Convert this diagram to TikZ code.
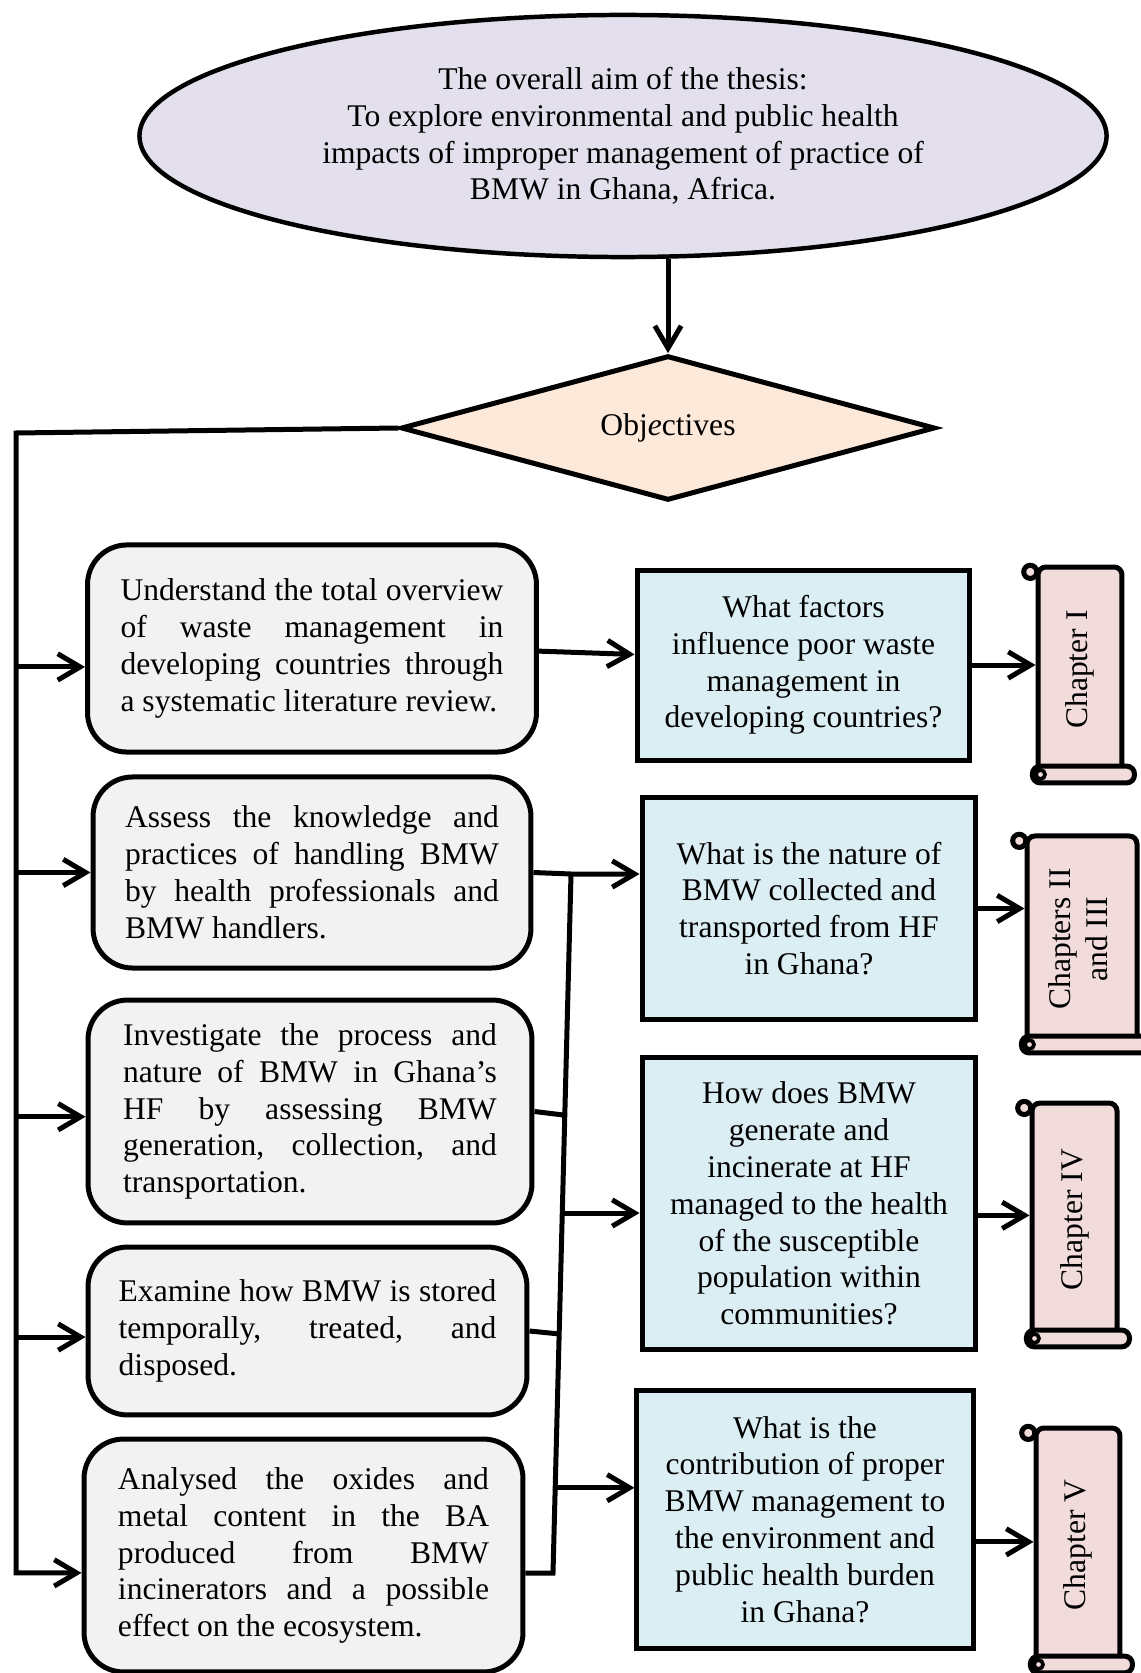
\documentclass[tikz,border=0pt]{standalone}
\usepackage{fontspec}
\setmainfont{Liberation Serif}
\usepackage{graphicx}
\usepackage{xcolor}
\usetikzlibrary{positioning, arrows.meta, shapes.geometric, calc}

\definecolor{aimfill}{HTML}{E4DFEC}
\definecolor{objfill}{HTML}{FDE9D9}
\definecolor{goalfill}{HTML}{F2F2F2}
\definecolor{askfill}{HTML}{DBEEF3}
\definecolor{chapfill}{HTML}{F2DCDB}

\hyphenpenalty=10000

\newcommand{\scrollparts}[1]{%
    \draw[line width=1.9pt, fill=chapfill, rounded corners=3pt] ([xshift=-1.2pt,yshift=3.2pt]#1.south west) rectangle ([xshift=3.8pt,yshift=-3.2pt]#1.south east);
    \draw[line width=1.4pt, fill=chapfill] ([xshift=1.9pt]#1.south west) circle (1.7pt);
    \draw[line width=1.9pt, fill=chapfill] ([xshift=-2pt,yshift=-2.8pt]#1.north west) circle (2.5pt);
}

\begin{document}
\begin{tikzpicture}[x=0.38pt, y=-0.38pt,
        txt/.style={font=\fontsize{12pt}{14pt}\selectfont},
        aim/.style={ellipse, draw=black, line width=1.7pt, fill=aimfill, inner sep=0pt, align=center, txt},
        obj/.style={diamond, draw=black, line width=1.9pt, fill=objfill, inner sep=2pt, aspect=3.7, txt},
        goal/.style={rectangle, rounded corners=15pt, draw=black, line width=1.9pt, fill=goalfill, inner sep=0pt, align=justify, txt},
        ask/.style={rectangle, draw=black, line width=1.9pt, fill=askfill, inner sep=0pt, align=center, txt},
        chap/.style={rectangle, rounded corners=3pt, draw=black, line width=1.9pt, fill=chapfill, inner sep=0pt, txt},
        conn/.style={line width=1.9pt},
        arr/.style={line width=1.9pt, -{Straight Barb[length=8.5pt,width=10pt]}}]
            \useasboundingbox (0,0) rectangle (1140,1673);

            \node[aim, minimum width=367.5pt, minimum height=92pt] (aim) at (623,136) {The overall aim of the thesis:\\To explore environmental and public health\\impacts of improper management of practice of\\BMW in Ghana, Africa.};
            \node[obj, minimum width=203pt, minimum height=55pt] (obj) at (668,428) {Obj\textit{e}ctives};

            \node[goal, minimum width=170.6pt, minimum height=78.7pt, text width=145.5pt] (g1) at (312,648.5) {Understand the total overview\linebreak of waste management in\linebreak developing countries through\linebreak a systematic literature review.};
            \node[goal, minimum width=166.4pt, minimum height=72.6pt, text width=142pt] (g2) at (312,872.5) {Assess the knowledge and\linebreak practices of handling BMW\linebreak by health professionals and\linebreak BMW handlers.};
            \node[goal, minimum width=168.7pt, minimum height=84.7pt, text width=142pt] (g3) at (310,1111.5) {Investigate the process and\linebreak nature of BMW in Ghana’s\linebreak HF by assessing BMW\linebreak generation, collection, and\linebreak transportation.};
            \node[goal, minimum width=166.8pt, minimum height=63.8pt, text width=143.5pt] (g4) at (307.5,1331) {Examine how BMW is stored\linebreak temporally, treated, and\linebreak disposed.};
            \node[goal, minimum width=166.8pt, minimum height=88.5pt, text width=141pt] (g5) at (303.5,1555.5) {Analysed the oxides and\linebreak metal content in the BA\linebreak produced from BMW\linebreak incinerators and a possible\linebreak effect on the ecosystem.};

            \node[ask, minimum width=126.5pt, minimum height=72.2pt] (q1) at (803.5,665) {What factors\\influence poor waste\\management in\\developing countries?};
            \node[ask, minimum width=126.9pt, minimum height=84pt] (q2) at (809,908.5) {What is the nature of\\BMW collected and\\transported from HF\\in Ghana?};
            \node[ask, minimum width=126.9pt, minimum height=110.6pt] (q3) at (809,1203.5) {How does BMW\\generate and\\incinerate at HF\\managed to the health\\of the susceptible\\population within\\communities?};
            \node[ask, minimum width=127.7pt, minimum height=97.7pt] (q4) at (805,1519.5) {What is the\\contribution of proper\\BMW management to\\the environment and\\public health burden\\in Ghana?};

            \node[chap, minimum width=31.9pt, minimum height=77.9pt] (c1) at (1080,669.5) {\rotatebox{90}{Chapter I}};
            \node[chap, minimum width=41.8pt, minimum height=78.3pt] (c2) at (1082,939) {\rotatebox{90}{\begin{tabular}{@{}c@{}}Chapters II\\and III\end{tabular}}};
            \node[chap, minimum width=32.3pt, minimum height=88.5pt] (c3) at (1074.5,1219.5) {\rotatebox{90}{Chapter IV}};
            \node[chap, minimum width=31.9pt, minimum height=88.9pt] (c4) at (1078,1545) {\rotatebox{90}{Chapter V}};
            \scrollparts{c1}
            \scrollparts{c2}
            \scrollparts{c3}
            \scrollparts{c4}

            \coordinate (ltop) at (16,433);
            \coordinate (bustop) at (571,874);
            \coordinate (busbot) at (553,1573);
            \coordinate (in1) at ([yshift=-7pt]g1.west);
            \coordinate (in3) at ([yshift=-2pt]g3.west);
            \coordinate (in4) at ([yshift=-2.3pt]g4.west);
            \coordinate (in5) at ([yshift=-6.6pt]g5.west);
            \coordinate (j3) at ($(bustop)!0.485!(busbot)$);
            \coordinate (j4) at ($(bustop)!0.878!(busbot)$);
            \coordinate (out3) at ([yshift=-4.5pt]q3.east);
            \coordinate (out4) at ([yshift=-8.5pt]q4.east);

            \draw[arr] (aim.south -| obj.north) -- (obj.north);
            \draw[arr] (obj.west) -- (ltop) -- (ltop |- in5) -- (in5);
            \draw[arr] (ltop |- in1) -- (in1);
            \draw[arr] (ltop |- g2.west) -- (g2.west);
            \draw[arr] (ltop |- in3) -- (in3);
            \draw[arr] (ltop |- in4) -- (in4);

            \draw[arr] ([yshift=-1pt]g1.east) -- ([yshift=4pt]q1.west);
            \draw[arr] (g2.east) -- (bustop) -- (bustop -| q2.west);
            \draw[conn] (bustop) -- (busbot) -- (g5.east |- busbot);
            \draw[conn] (g3.east) -- ($(bustop)!0.345!(busbot)$);
            \draw[conn] (g4.east) -- ($(bustop)!0.658!(busbot)$);
            \draw[arr] (j3) -- (j3 -| q3.west);
            \draw[arr] (j4) -- (j4 -| q4.west);

            \draw[arr] (q1.east) -- (q1.east -| c1.west);
            \draw[arr] (q2.east) -- (q2.east -| c2.west);
            \draw[arr] (out3) -- (out3 -| c3.west);
            \draw[arr] (out4) -- (out4 -| c4.west);
        \end{tikzpicture}
\end{document}
